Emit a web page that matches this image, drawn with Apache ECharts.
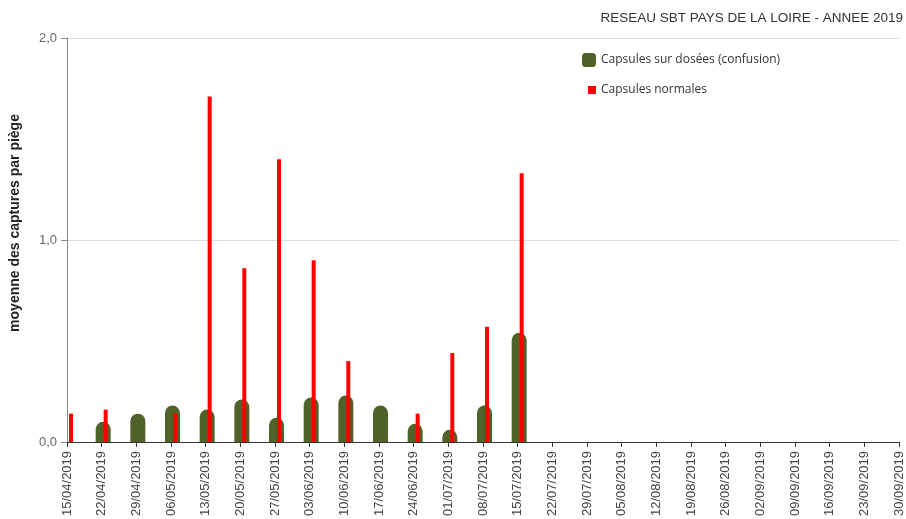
<!DOCTYPE html>
<html>
<head>
<meta charset="utf-8">
<script src="https://cdn.jsdelivr.net/npm/echarts@6/dist/echarts.min.js"></script>
<style>html,body{margin:0;padding:0;background:#fff}#c{width:906px;height:519px}</style>
</head>
<body>
<div id="c"></div>
<script>
const categories = ['15/04/2019','22/04/2019','29/04/2019','06/05/2019','13/05/2019','20/05/2019','27/05/2019','03/06/2019','10/06/2019','17/06/2019','24/06/2019','01/07/2019','08/07/2019','15/07/2019','22/07/2019','29/07/2019','05/08/2019','12/08/2019','19/08/2019','26/08/2019','02/09/2019','09/09/2019','16/09/2019','23/09/2019','30/09/2019'];
const confusionValues = [null,0.10,0.14,0.18,0.16,0.21,0.12,0.22,0.23,0.18,0.09,0.06,0.18,0.54,null,null,null,null,null,null,null,null,null,null,null];
const normalValues = [0.14,0.16,null,0.14,1.71,0.86,1.40,0.90,0.40,null,0.14,0.44,0.57,1.33,null,null,null,null,null,null,null,null,null,null,null];
const yTicks = [0, 1, 2];

const chart = echarts.init(document.getElementById('c'));
chart.setOption({
  animation: false,
  backgroundColor: '#fff',
  title: {
    text: 'RESEAU SBT PAYS DE LA LOIRE - ANNEE 2019',
    right: 3, top: 11, padding: 0,
    textStyle: {fontFamily: 'Liberation Sans', fontSize: 13.5, fontWeight: 'normal', color: '#333'}
  },
  legend: [
    {
      data: [{name: 'Capsules sur dosées (confusion)', icon: 'roundRect'}],
      left: 582, top: 53, padding: 0, itemWidth: 14, itemHeight: 14,
      textStyle: {fontFamily: 'Open Sans', fontSize: 12, color: '#333'}
    },
    {
      data: [{name: 'Capsules normales', icon: 'rect'}],
      left: 588, top: 84, padding: 0, itemWidth: 8, itemHeight: 8,
      textStyle: {fontFamily: 'Open Sans', fontSize: 12, color: '#333'}
    }
  ],
  grid: {left: 65, top: 38, right: 7, bottom: 76, containLabel: false},
  xAxis: {
    type: 'category',
    data: categories,
    boundaryGap: false,
    axisLine: {lineStyle: {color: '#333', width: 1}},
    axisTick: {show: true, length: 5, lineStyle: {color: '#333'}},
    axisLabel: {rotate: 90, interval: 0, margin: 9, fontFamily: 'Liberation Sans', fontSize: 13, color: '#444'},
    splitLine: {show: false}
  },
  yAxis: {
    type: 'value',
    min: yTicks[0], max: yTicks[yTicks.length - 1], interval: 1,
    name: 'moyenne des captures par piège',
    nameLocation: 'middle', nameGap: 45,
    nameTextStyle: {fontFamily: 'Liberation Sans', fontSize: 14, fontWeight: 'bold', color: '#222', padding: [0, 0, 0, 34]},
    axisLine: {show: true, lineStyle: {color: '#888'}},
    axisTick: {show: true, length: 6, lineStyle: {color: '#888'}},
    axisLabel: {margin: 10, fontFamily: 'Liberation Sans', fontSize: 13, color: '#666',
      formatter: v => v.toFixed(1).replace('.', ',')},
    splitLine: {lineStyle: {color: '#dcdcdc'}}
  },
  series: [
    {
      name: 'Capsules sur dosées (confusion)',
      type: 'bar',
      data: confusionValues,
      barWidth: 15,
      barGap: '-46.67%',
      itemStyle: {color: '#4f6228', borderRadius: [7.5, 7.5, 0, 0]}
    },
    {
      name: 'Capsules normales',
      type: 'bar',
      data: normalValues,
      barWidth: 4,
      itemStyle: {color: '#ff0000'}
    }
  ]
});
</script>
</body>
</html>
